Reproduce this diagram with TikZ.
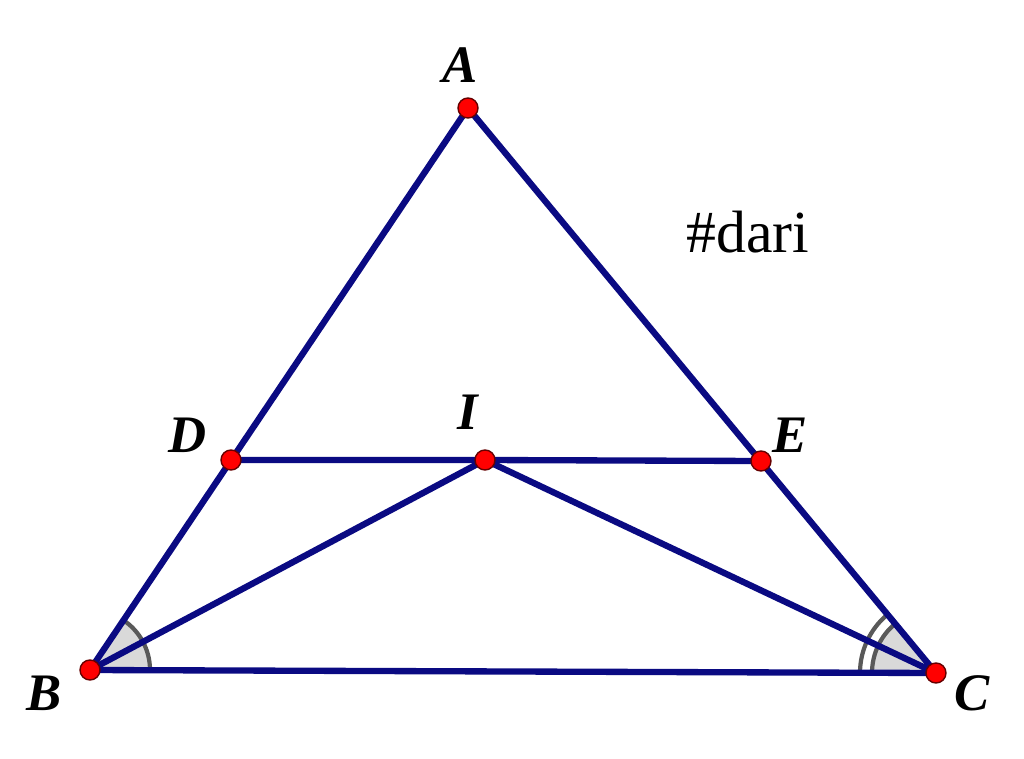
\documentclass[tikz,border=0pt]{standalone}
\usepackage{fontspec}
\setmainfont{Liberation Serif}
\usepackage{tikz}
\usepackage{xcolor}
\definecolor{navyline}{RGB}{10,10,130}
\tikzset{
  seg/.style={navyline,line width=1.8pt},
  lbl/.style={font=\fontsize{15}{15}\selectfont\bfseries\itshape},
  anglearc/.style={gray!70!black,line width=1.2pt}
}

\begin{document}
\begin{tikzpicture}
 \useasboundingbox (0,0) rectangle (10.24,7.58);
  \coordinate (A) at (4.68,6.50);
  \coordinate (B) at (0.90,0.88);
  \coordinate (C) at (9.36,0.85);
  \coordinate (D) at (2.31,2.98);
  \coordinate (E) at (7.61,2.97);
  \coordinate (I) at (4.85,2.98);

  % angle marks
  \fill[gray!30] (B) -- ([shift={(0:0.6)}]B) arc (0:56.1:0.6) -- cycle;
  \draw[anglearc] ([shift={(0:0.6)}]B) arc (0:56.1:0.6);
  \fill[gray!30] (C) -- ([shift={(180:0.64)}]C) arc (180:129.6:0.64) -- cycle;
  \draw[anglearc] ([shift={(180:0.64)}]C) arc (180:129.6:0.64);
  \draw[anglearc] ([shift={(180:0.76)}]C) arc (180:129.6:0.76);

  \draw[seg] (A) -- (B) -- (C) -- cycle;
  \draw[seg] (D) -- (I) -- (E);
  \draw[seg] (B) -- (I) -- (C);

\foreach \p in {A,B,C,D,E,I}
  \path[fill=red,draw=red!40!black,line width=0.4pt] (\p) circle (1.0mm);

  \node[lbl] (lA) at (4.60,6.93) {A};
  \node[lbl] (lB) at (0.44,0.65) {B};
  \node[lbl] (lC) at (9.72,0.65) {C};
  \node[lbl] (lD) at (1.88,3.23) {D};
  \node[lbl] (lE) at (7.90,3.23) {E};
  \node[lbl] (lI) at (4.68,3.46) {I};
  \node[font=\fontsize{17}{17}\selectfont] (tag) at (7.48,5.26) {\#dari};
\end{tikzpicture}
\end{document}
